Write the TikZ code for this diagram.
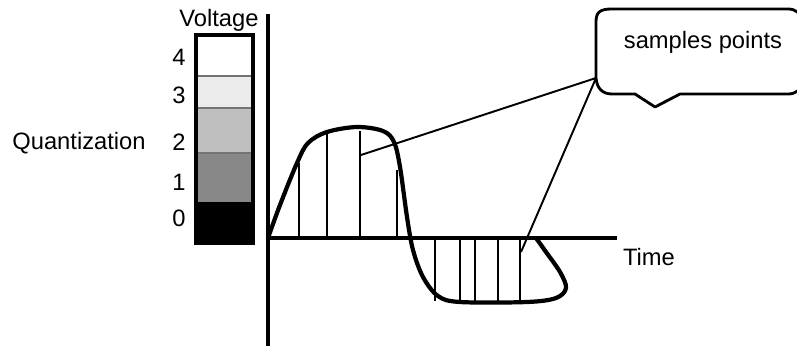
\documentclass[tikz,border=0pt]{standalone}
\usepackage{fontspec}
\setmainfont{Liberation Sans}
\usetikzlibrary{positioning}

\tikzset{
  lbl/.style={font=\fontsize{13.5}{16}\selectfont, inner sep=0pt},
  axisline/.style={line width=2.3pt},
  wave/.style={line width=2.4pt, line join=round},
  sampleline/.style={line width=1.1pt},
  pointer/.style={line width=1.1pt},
}

\begin{document}
\begin{tikzpicture}[x=0.02cm, y=-0.02cm]
  \useasboundingbox (0,0) rectangle (797,348);

  % Quantization scale: bands 4 (top) .. 0 (bottom)
  \fill[white]       (197,36) rectangle (252,76);
  \fill[black!8]     (197,76) rectangle (252,108);
  \fill[black!25]    (197,108) rectangle (252,153);
  \fill[black!47]    (197,153) rectangle (252,202);
  \fill[black]       (197,202) rectangle (252,242);
  \foreach \y in {76,108,153}{
    \draw[black!55, line width=0.8pt] (197,\y) -- (252,\y);
  }
  \draw[line width=2.6pt] (196,35) rectangle (253,243);
  \foreach \v/\y in {4/57,3/95,2/142,1/182,0/218}{
    \node[lbl] (lv\v) at (179,\y) {\v};
  }
  \node[lbl] (volt) at (219,20) {Voltage};
  \node[lbl] (quant) at (79,143) {Quantization};

  % Axes
  \coordinate (origin) at (268,238);
  \draw[axisline] (268,14) -- (268,346);
  \draw[axisline] (268,238) -- (617,238);
  \node[lbl] (time) at (649,257) {Time};

  % Sample lines
  \foreach \x/\y in {299/163,327/134,360/131,397/170}{
    \draw[sampleline] (\x,238) -- (\x,\y);
  }
  \foreach \x in {435,460,475,498,520}{
    \draw[sampleline] (\x,238) -- (\x,301);
  }

  % Signal
  \draw[wave] plot[smooth, tension=0.55] coordinates {
    (268,238) (280,205) (297,163) (308,143) (327,132) (357,127)
    (383,131) (394,142) (400,167) (407,217) (413,250) (423,277)
    (438,296) (460,302) (527,302) (556,298) (566,288) (560,272)
    (546,252) (536,238)};

  % Callout (right side runs off the page)
  \draw[line width=1.6pt, line join=round]
    (596,22) .. controls (596,12) and (600,9) .. (612,9)
    -- (788,9) .. controls (796,9) and (800,13) .. (804,22)
    -- (804,82) .. controls (800,90) and (796,94) .. (788,94)
    -- (680,94) -- (655,107) -- (635,94) -- (612,94)
    .. controls (602,94) and (597,88) .. (596,78) -- cycle;
  \node[lbl] (callout) at (703,42) {samples points};

  \coordinate (tail) at (596,78);
  \coordinate (sp1) at (361,155);
  \coordinate (sp2) at (521,252);
  \draw[pointer] (tail) -- (sp1);
  \draw[pointer] (tail) -- (sp2);
\end{tikzpicture}
\end{document}
